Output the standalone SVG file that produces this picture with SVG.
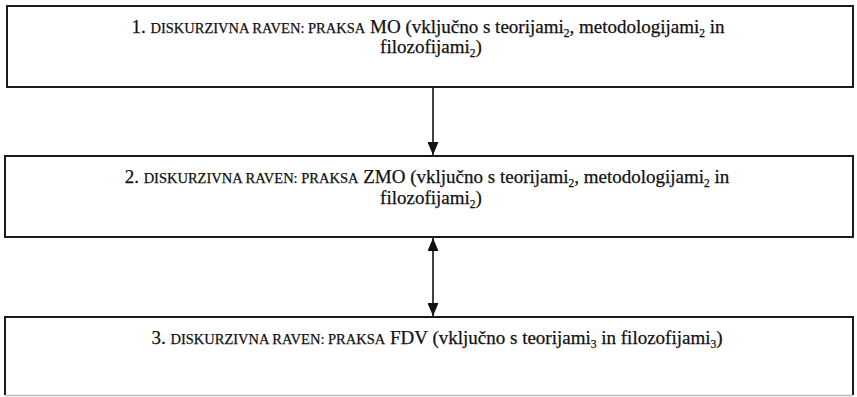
<svg xmlns="http://www.w3.org/2000/svg" width="857" height="397" viewBox="0 0 857 397">
<defs>
<style>
.box{fill:#fff;stroke:#1a1a1a;stroke-width:2}
.t{font-family:"Liberation Serif","Times New Roman",serif;font-size:19px;fill:#111;text-anchor:middle;stroke:#111;stroke-width:0.25}
.sc{font-size:14.5px}
.sub{font-size:11.5px}
.conn{stroke:#111;stroke-width:1.6;fill:none}
</style>
<marker id="ah" viewBox="0 0 13 11" refX="13" refY="5.5" markerWidth="13" markerHeight="11" markerUnits="userSpaceOnUse" orient="auto-start-reverse">
<path d="M0,0 L13,5.5 L0,11 Z" fill="#111"/>
</marker>
</defs>
<rect width="857" height="397" fill="#fff"/>
<g id="node1">
<rect class="box" x="7" y="6" width="846" height="81"/>
<text class="t" x="428" y="33">1. <tspan class="sc">DISKURZIVNA RAVEN: PRAKSA</tspan> MO (vključno s teorijami<tspan class="sub" dy="4">2</tspan><tspan dy="-4">, metodologijami</tspan><tspan class="sub" dy="4">2</tspan><tspan dy="-4"> in</tspan></text>
<text class="t" x="431" y="53">filozofijami<tspan class="sub" dy="4">2</tspan><tspan dy="-4">)</tspan></text>
</g>
<g id="node2">
<rect class="box" x="5" y="156" width="848" height="81"/>
<text class="t" x="427" y="183">2. <tspan class="sc">DISKURZIVNA RAVEN: PRAKSA</tspan> ZMO (vključno s teorijami<tspan class="sub" dy="4">2</tspan><tspan dy="-4">, metodologijami</tspan><tspan class="sub" dy="4">2</tspan><tspan dy="-4"> in</tspan></text>
<text class="t" x="431" y="204">filozofijami<tspan class="sub" dy="4">2</tspan><tspan dy="-4">)</tspan></text>
</g>
<g id="node3">
<path d="M5,395 V317 H853 V395" fill="#fff" stroke="#1a1a1a" stroke-width="2"/>
<line x1="5" y1="395.5" x2="853" y2="395.5" stroke="#bbb" stroke-width="1.5"/>
<text class="t" x="437" y="344">3. <tspan class="sc">DISKURZIVNA RAVEN: PRAKSA</tspan> FDV (vključno s teorijami<tspan class="sub" dy="4">3</tspan><tspan dy="-4"> in filozofijami</tspan><tspan class="sub" dy="4">3</tspan><tspan dy="-4">)</tspan></text>
</g>
<g id="connectors">
<line class="conn" x1="433" y1="88" x2="433" y2="155" marker-end="url(#ah)"/>
<line class="conn" x1="433" y1="238" x2="433" y2="316" marker-start="url(#ah)" marker-end="url(#ah)"/>
</g>
</svg>
